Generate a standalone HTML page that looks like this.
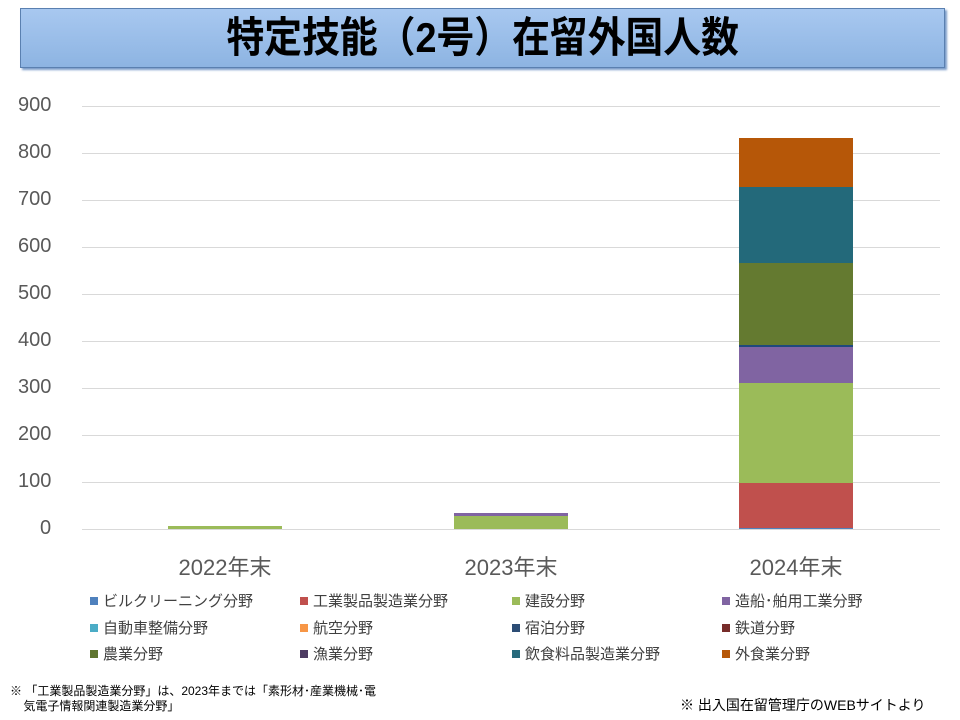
<!DOCTYPE html>
<html><head><meta charset="utf-8"><style>
body{margin:0;width:960px;height:720px;background:#fff;position:relative;overflow:hidden;font-family:"Liberation Sans","Noto Sans CJK JP",sans-serif;}
.t{position:absolute;left:20px;top:8px;width:925px;height:60px;background:linear-gradient(#a8c8f0,#8db4e2);border:1px solid #5a80b0;box-shadow:2px 2px 2px #7a9cc8;box-sizing:border-box;text-align:center;line-height:58px;color:#000}
.t span{display:inline-block;font-size:42px;font-weight:bold;transform:scaleX(0.9);letter-spacing:0px}
.a{position:absolute;font-size:20px;color:#595959}
.lg{position:absolute;font-size:15px;color:#404040;line-height:16px}
.lg i{display:inline-block;width:8px;height:8px;margin-right:5px;vertical-align:1px}
</style></head><body>
<div class="t"><span>特定技能（2号）在留外国人数</span></div>
<svg style="position:absolute;left:0;top:0" width="960" height="720">
<g stroke="#d9d9d9" stroke-width="1">
<line x1="82" x2="940" y1="106.5" y2="106.5"/><line x1="82" x2="940" y1="153.5" y2="153.5"/><line x1="82" x2="940" y1="200.5" y2="200.5"/><line x1="82" x2="940" y1="247.5" y2="247.5"/><line x1="82" x2="940" y1="294.5" y2="294.5"/><line x1="82" x2="940" y1="341.5" y2="341.5"/><line x1="82" x2="940" y1="388.5" y2="388.5"/><line x1="82" x2="940" y1="435.5" y2="435.5"/><line x1="82" x2="940" y1="482.5" y2="482.5"/><line x1="82" x2="940" y1="529.5" y2="529.5"/>
</g>
<rect x="168" y="526" width="114" height="3" fill="#9bbb59"/>
<rect x="454" y="516" width="114" height="13" fill="#9bbb59"/>
<rect x="454" y="513" width="114" height="3" fill="#8064a2"/>
<rect x="739" y="483" width="114" height="46" fill="#c0504d"/>
<rect x="739" y="528" width="114" height="1" fill="#4f81bd"/>
<rect x="739" y="383" width="114" height="100" fill="#9bbb59"/>
<rect x="739" y="347" width="114" height="36" fill="#8064a2"/>
<rect x="739" y="345" width="114" height="2" fill="#1f497d"/>
<rect x="739" y="263" width="114" height="82" fill="#647a30"/>
<rect x="739" y="187" width="114" height="76" fill="#23697a"/>
<rect x="739" y="138" width="114" height="49" fill="#b65708"/>
</svg>
<div class="a" style="left:18px;top:94px">900</div>
<div class="a" style="left:18px;top:141px">800</div>
<div class="a" style="left:18px;top:188px">700</div>
<div class="a" style="left:18px;top:235px">600</div>
<div class="a" style="left:18px;top:282px">500</div>
<div class="a" style="left:18px;top:329px">400</div>
<div class="a" style="left:18px;top:376px">300</div>
<div class="a" style="left:18px;top:423px">200</div>
<div class="a" style="left:18px;top:470px">100</div>
<div class="a" style="left:40px;top:517px">0</div>
<div class="a" style="left:165px;top:550px;width:120px;text-align:center;font-size:22px">2022年末</div>
<div class="a" style="left:451px;top:550px;width:120px;text-align:center;font-size:22px">2023年末</div>
<div class="a" style="left:736px;top:550px;width:120px;text-align:center;font-size:22px">2024年末</div>
<div class="lg" style="left:90px;top:594px"><i style="background:#4f81bd"></i>ビルクリーニング分野</div>
<div class="lg" style="left:300px;top:594px"><i style="background:#c0504d"></i>工業製品製造業分野</div>
<div class="lg" style="left:512px;top:594px"><i style="background:#9bbb59"></i>建設分野</div>
<div class="lg" style="left:722px;top:594px"><i style="background:#8064a2"></i>造船･舶用工業分野</div>
<div class="lg" style="left:90px;top:621px"><i style="background:#4bacc6"></i>自動車整備分野</div>
<div class="lg" style="left:300px;top:621px"><i style="background:#f79646"></i>航空分野</div>
<div class="lg" style="left:512px;top:621px"><i style="background:#2c4d75"></i>宿泊分野</div>
<div class="lg" style="left:722px;top:621px"><i style="background:#772c2a"></i>鉄道分野</div>
<div class="lg" style="left:90px;top:647px"><i style="background:#5f7530"></i>農業分野</div>
<div class="lg" style="left:300px;top:647px"><i style="background:#4d3b62"></i>漁業分野</div>
<div class="lg" style="left:512px;top:647px"><i style="background:#276a7c"></i>飲食料品製造業分野</div>
<div class="lg" style="left:722px;top:647px"><i style="background:#b65708"></i>外食業分野</div>
<div style="position:absolute;left:10px;top:684px;font-size:12px;line-height:15px;color:#000">※ 「工業製品製造業分野」は、2023年までは「素形材･産業機械･電<br>&nbsp;&nbsp;&nbsp;&nbsp;気電子情報関連製造業分野」</div>
<div style="position:absolute;left:680px;top:695px;font-size:14px;color:#000">※ 出入国在留管理庁のWEBサイトより</div>
</body></html>
